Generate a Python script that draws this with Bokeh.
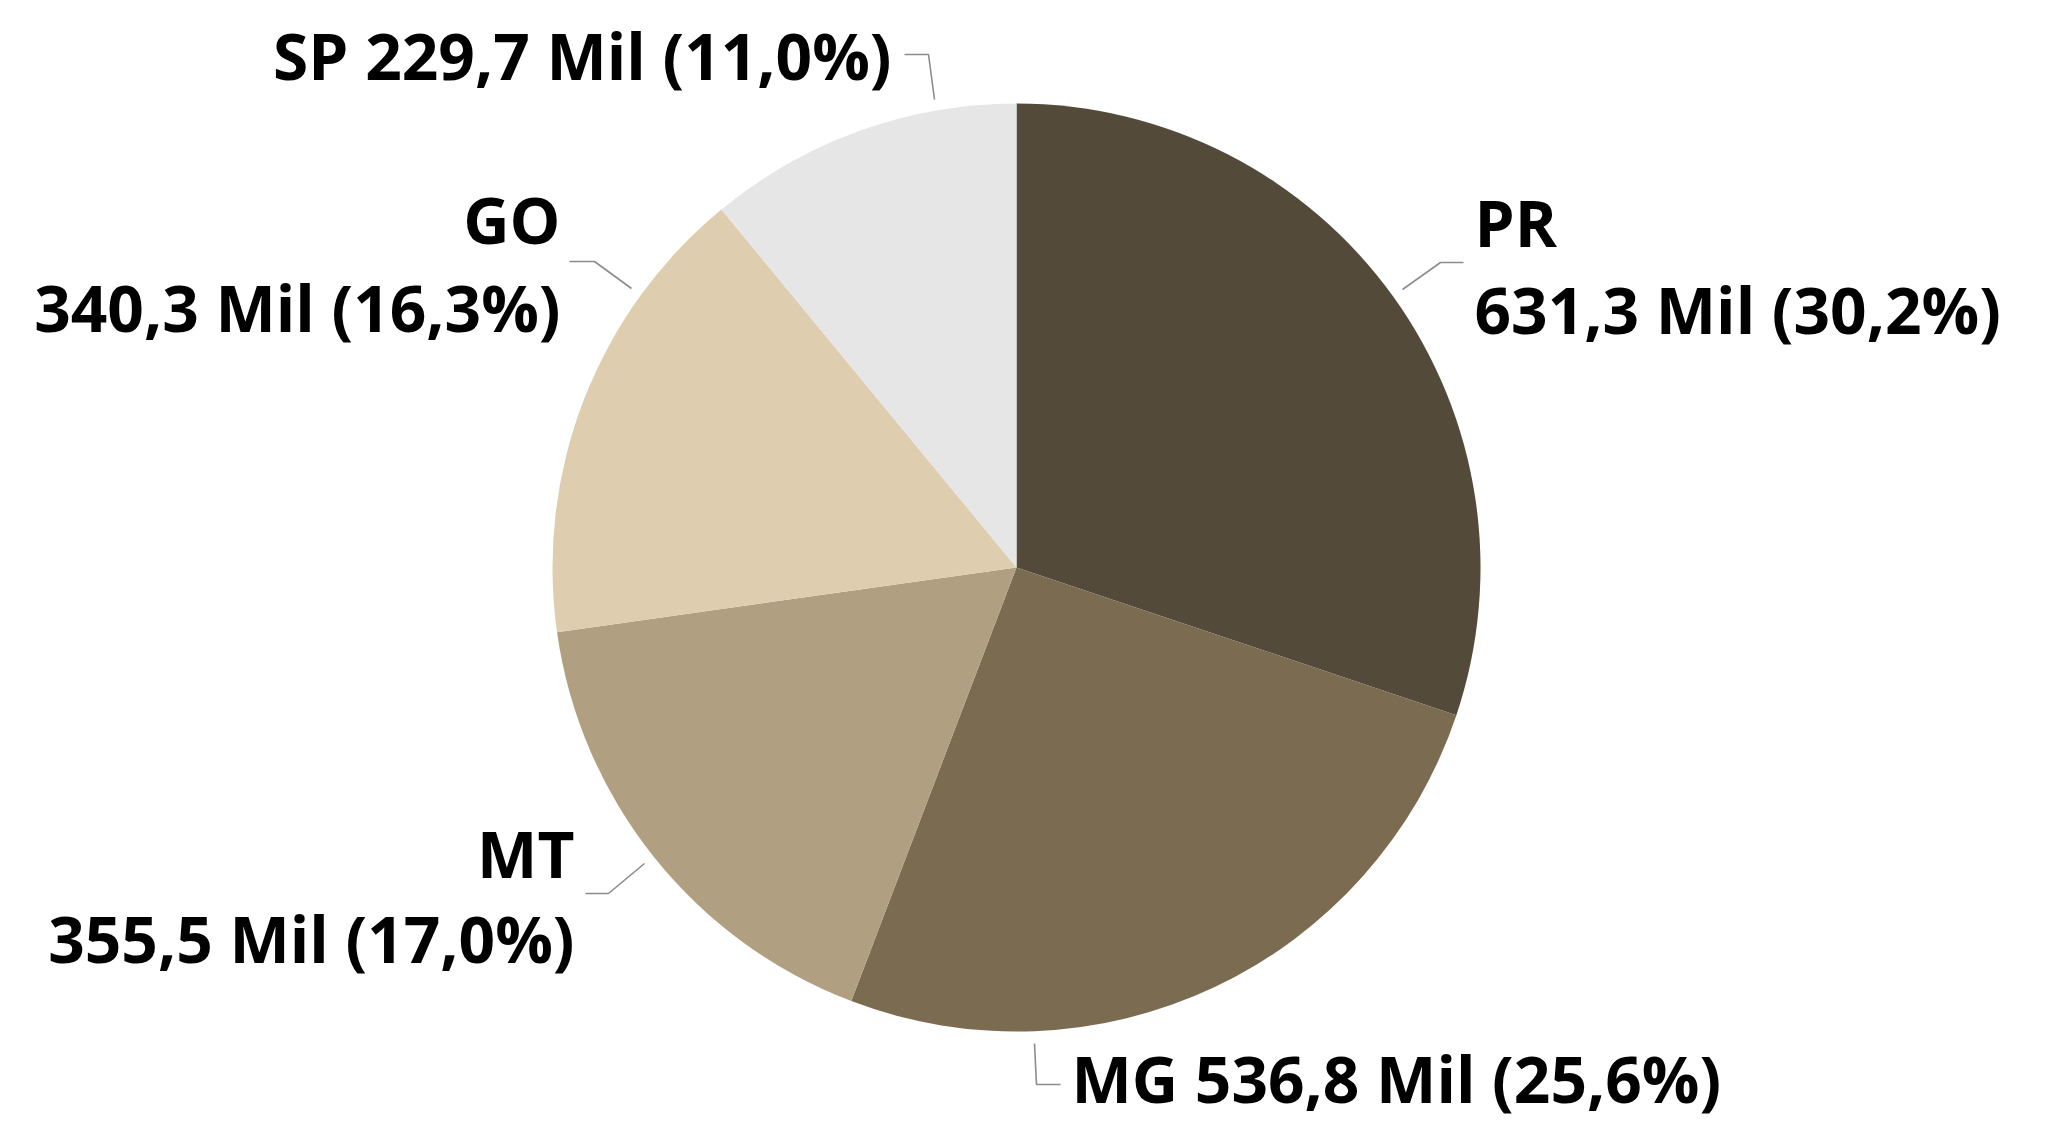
import numpy as np
from bokeh.plotting import figure
from bokeh.models import Range1d
from bokeh.embed import file_html
from bokeh.resources import INLINE
from bokeh.core.properties import value

# ---- data ----
states = ["PR", "MG", "MT", "GO", "SP"]
values = [631.3, 536.8, 355.5, 340.3, 229.7]   # thousands
colors = ["#534a39", "#7b6b50", "#b09f80", "#dfcdb0", "#e6e6e6"]

# ---- layout (reference pixel space) ----
PW, PH = 2044, 1123
CX, CY, R = 1016, 567, 464

def fy(y):
    return PH - y

p = figure(width=PW, height=PH, output_backend="svg", toolbar_location=None,
           x_range=Range1d(0, PW), y_range=Range1d(0, PH), min_border=0)
p.axis.visible = False
p.grid.visible = False
p.outline_line_color = None
p.background_fill_color = "white"
p.border_fill_color = "white"

vals = np.array(values)
tot = vals.sum()
frac = vals / tot
cum = np.concatenate([[0], np.cumsum(frac)])
start = np.pi / 2 - cum[:-1] * 2 * np.pi
end = np.pi / 2 - cum[1:] * 2 * np.pi

p.wedge(x=CX, y=fy(CY), radius=R, start_angle=start, end_angle=end,
        direction="clock", fill_color=colors, line_color=None)

def fmt(v):
    return f"{v:.1f}".replace(".", ",")

labels_val = [f"{fmt(v)} Mil ({fmt(f*100)}%)" for v, f in zip(values, frac)]

# leader line positions (style) per state
leaders = {
    "PR": [(1402, 289), (1440, 262), (1463, 262)],
    "MG": [(1034, 1043), (1036, 1084), (1060, 1084)],
    "MT": [(644, 863), (608, 893), (585, 893)],
    "GO": [(631, 288), (594, 261), (569, 261)],
    "SP": [(934, 99), (928, 54), (904, 54)],
}
for s in states:
    pts = leaders[s]
    p.line([q[0] for q in pts], [fy(q[1]) for q in pts], line_color="#8c8c8c", line_width=1.6)

FONT = value("Open Sans")
FS = "64px"
tstyle = dict(text_font=FONT, text_font_size=FS, text_font_style="bold",
              text_color="#000000", text_baseline="middle")

# label placements (style): (x, y_line1, y_line2, align, two_lines)
place = {
    "PR": (1474, 222, 309, "left", True),
    "GO": (560, 219, 307, "right", True),
    "MT": (574, 853, 938, "right", True),
    "MG": (1071, 1078, None, "left", False),
    "SP": (891, 55, None, "right", False),
}
for s, lv in zip(states, labels_val):
    x, y1, y2, al, two = place[s]
    if two:
        p.text(x=[x], y=[fy(y1)], text=[s], text_align=al, **tstyle)
        p.text(x=[x], y=[fy(y2)], text=[lv], text_align=al, **tstyle)
    else:
        p.text(x=[x], y=[fy(y1)], text=[f"{s} {lv}"], text_align=al, **tstyle)

open("out.html", "w").write(file_html(p, INLINE))
